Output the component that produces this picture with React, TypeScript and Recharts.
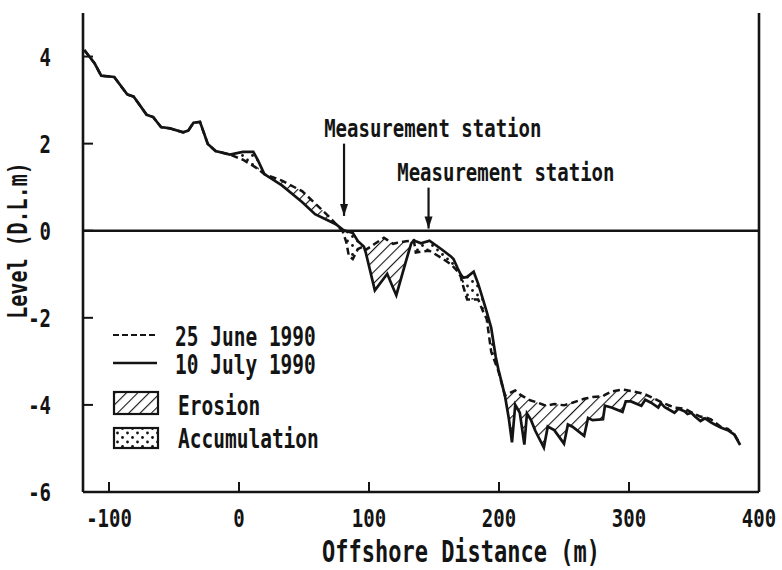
import type { FC, ReactNode } from 'react'
import { Area, ComposedChart, Legend, Line, ReferenceDot, ReferenceLine, XAxis, YAxis } from 'recharts'

// Beach profile, offshore distance (m) vs level (D.L. m)
const distance = [
  -119, -111, -106, -96, -86, -81, -71, -66, -60, -53, -43, -39, -35, -30, -24, -18, -7,
  3, 11, 14.5, 19.5, 33, 48.5, 58.5, 69, 75,
  80, 82.5, 84.5, 87.5, 91.5, 96,
  97.5, 104.5, 111.5, 114, 118.5, 121, 128.5, 132.5, 134.5,
  136, 140, 146.5, 155.5, 163, 165, 168, 170.5, 172.5, 175.5, 180.5, 184, 187.5, 190.5, 194, 197.5, 199.5, 204.5,
  207.5, 210, 212.5, 216, 219.5, 221.5, 224.5, 228, 234.5, 237.5, 242.5, 250, 253, 256.5, 265.5, 268.5, 272, 280,
  281.5, 286.5, 295, 297.5, 301.5, 309.5, 312.5, 317, 322.5, 324.5, 327.5, 335, 338, 343, 345, 348, 350.5, 355,
  358.5, 363, 366, 370.5, 376, 381, 385.5,
]

const june = [
  4.15, 3.84, 3.56, 3.53, 3.13, 3.08, 2.66, 2.61, 2.38, 2.35, 2.26, 2.3, 2.48, 2.5, 1.99, 1.83, 1.75,
  1.63, 1.49, 1.42, 1.3, 1.15, 0.91, 0.63, 0.33, 0.14,
  -0.03, -0.26, -0.58, -0.65, -0.42, -0.36,
  -0.44, -0.3, -0.16, -0.21, -0.3, -0.28, -0.24, -0.23, -0.22,
  -0.5, -0.48, -0.46, -0.62, -0.77, -0.83, -0.93, -1.05, -1.28, -1.58, -1.58, -1.58, -1.84, -2.02, -2.78, -3.06, -3.22, -3.78,
  -3.74, -3.7, -3.67, -3.76, -3.82, -3.86, -3.9, -3.93, -4.0, -4.01, -3.98, -4.01, -3.98, -3.95, -3.86, -3.84, -3.82, -3.8,
  -3.77, -3.69, -3.65, -3.66, -3.68, -3.73, -3.76, -3.82, -3.9, -3.93, -3.97, -4.06, -4.07, -4.09, -4.12, -4.17, -4.21, -4.27,
  -4.28, -4.33, -4.4, -4.5, -4.55, -4.67, -4.9,
]

const july = [
  4.15, 3.84, 3.56, 3.53, 3.13, 3.08, 2.66, 2.61, 2.38, 2.35, 2.26, 2.3, 2.48, 2.5, 1.99, 1.83, 1.75,
  1.81, 1.81, 1.62, 1.3, 1.04, 0.66, 0.38, 0.23, 0.14,
  0.02, -0.01, -0.02, -0.05, -0.24, -0.36,
  -0.5, -1.37, -1.09, -0.99, -1.31, -1.48, -0.69, -0.29, -0.22,
  -0.24, -0.29, -0.23, -0.42, -0.59, -0.65, -0.85, -1.0, -1.08, -1.06, -0.94, -1.22, -1.56, -1.86, -2.23, -2.9, -3.18, -3.78,
  -4.3, -4.86, -4.0, -4.18, -4.91, -4.2, -4.34, -4.6, -4.98, -4.5, -4.58, -4.89, -4.45, -4.5, -4.71, -4.3, -4.35, -4.33,
  -4.02, -4.06, -4.16, -3.92, -3.92, -4.02, -3.88, -3.95, -4.06, -3.96, -4.05, -4.18, -4.09, -4.15, -4.21, -4.18, -4.26, -4.37,
  -4.31, -4.4, -4.45, -4.52, -4.58, -4.68, -4.92,
]

const xTicks = [-100, 0, 100, 200, 300, 400]
const yTicks = [-6, -4, -2, 0, 2, 4]

const stations = [
  { x: 80.8, top: 2.0, tip: 0.34, textX: 65.5, textY: 2.36 },
  { x: 145.8, top: 0.99, tip: 0.05, textX: 121.7, textY: 1.35 },
]

// erosion where the earlier survey lies above the later one, accumulation otherwise
const rows = distance.map((x, i) => {
  const a = june[i]
  const b = july[i]
  return {
    x,
    june: a,
    july: b,
    erosion: a > b ? [b, a] : [b, b],
    accumulation: b > a ? [a, b] : [a, a],
  }
})

const INK = '#141414'
const FONT = '"DejaVu Sans Mono", monospace'

interface PlotTextProps {
  x: number
  y: number
  size: number
  anchor?: 'start' | 'middle' | 'end'
  rotate?: number
  children: ReactNode
}

// tall, narrow plotter-style lettering
const PlotText: FC<PlotTextProps> = ({ x, y, size, anchor = 'start', rotate = 0, children }) => (
  <text
    transform={`translate(${x},${y}) rotate(${rotate}) scale(1,1.35)`}
    fontFamily={FONT}
    fontSize={size}
    fontWeight="bold"
    textAnchor={anchor}
    dominantBaseline="central"
    fill={INK}>
    {children}
  </text>
)

const BottomTick = ({ x, y, payload }: any) => (
  <g>
    <line x1={x} y1={y} x2={x} y2={y - 10} stroke={INK} strokeWidth={2} />
    <PlotText x={x} y={y + 26} size={19} anchor="middle">
      {payload.value}
    </PlotText>
  </g>
)

const TopTick = ({ x, y }: any) => <line x1={x} y1={y} x2={x} y2={y + 10} stroke={INK} strokeWidth={2} />

const LeftTick = ({ x, y, payload }: any) => (
  <g>
    <line x1={x} y1={y} x2={x + 10} y2={y} stroke={INK} strokeWidth={2} />
    <PlotText x={x - 32} y={y} size={19} anchor="end">
      {payload.value}
    </PlotText>
  </g>
)

const RightTick = ({ x, y }: any) => <line x1={x} y1={y} x2={x - 10} y2={y} stroke={INK} strokeWidth={2} />

const Arrow = ({ x1, y1, x2, y2 }: any) => (
  <g>
    <line x1={x1} y1={y1} x2={x2} y2={y2} stroke={INK} strokeWidth={2.2} />
    <polygon points={`${x2},${y2} ${x2 - 4},${y2 - 12} ${x2 + 4},${y2 - 12}`} fill={INK} />
  </g>
)

const LegendKey: FC = () => (
  <svg width={240} height={140}>
    <line x1={3} y1={17} x2={46} y2={17} stroke={INK} strokeWidth={2.2} strokeDasharray="6 3" />
    <PlotText x={65} y={19} size={19.5}>
      25 June 1990
    </PlotText>
    <line x1={3} y1={45} x2={47} y2={45} stroke={INK} strokeWidth={2.6} />
    <PlotText x={65} y={47} size={19.5}>
      10 July 1990
    </PlotText>
    <rect x={4} y={74} width={44} height={22} fill="url(#hatch)" stroke={INK} strokeWidth={2.2} />
    <PlotText x={68} y={88} size={19.5}>
      Erosion
    </PlotText>
    <rect x={4} y={110} width={44} height={20} fill="url(#dots)" stroke={INK} strokeWidth={2.2} />
    <PlotText x={68} y={121} size={19.5}>
      Accumulation
    </PlotText>
  </svg>
)

const XTitle = ({ viewBox }: any) => (
  <PlotText x={viewBox.x + viewBox.width / 2 + 40} y={viewBox.y + 60} size={22} anchor="middle">
    Offshore Distance (m)
  </PlotText>
)

const YTitle = ({ viewBox }: any) => (
  <PlotText x={18} y={viewBox.y + viewBox.height / 2 - 12} size={20} anchor="middle" rotate={-90}>
    Level (D.L.m)
  </PlotText>
)

const App: FC = () => (
  <div style={{ position: 'absolute', left: 0, top: 0, width: 782, height: 570, background: '#fff' }}>
    <ComposedChart width={782} height={570} data={rows} margin={{ top: 13, right: 0, bottom: 0, left: 0 }}>
      <defs>
        <pattern id="hatch" width={8} height={8} patternUnits="userSpaceOnUse" patternTransform="rotate(45)">
          <line x1={0} y1={0} x2={0} y2={8} stroke={INK} strokeWidth={2.2} />
        </pattern>
        <pattern id="dots" width={10} height={9} patternUnits="userSpaceOnUse">
          <circle cx={2.5} cy={2.5} r={1.4} fill={INK} />
          <circle cx={7.5} cy={7} r={1.4} fill={INK} />
        </pattern>
      </defs>

      <XAxis
        dataKey="x"
        type="number"
        domain={[-120, 400]}
        ticks={xTicks}
        interval={0}
        height={78}
        tickSize={0}
        tickMargin={0}
        tickLine={false}
        tick={BottomTick}
        axisLine={{ stroke: INK, strokeWidth: 2.6 }}
        label={{ content: XTitle }}
      />
      <XAxis
        xAxisId="top"
        orientation="top"
        type="number"
        domain={[-120, 400]}
        ticks={xTicks}
        interval={0}
        height={0}
        tickSize={0}
        tickMargin={0}
        tickLine={false}
        tick={TopTick}
        axisLine={{ stroke: INK, strokeWidth: 2.6 }}
      />
      <YAxis
        type="number"
        domain={[-6, 5]}
        ticks={yTicks}
        interval={0}
        width={83}
        tickSize={0}
        tickMargin={0}
        tickLine={false}
        tick={LeftTick}
        axisLine={{ stroke: INK, strokeWidth: 2.6 }}
        label={{ content: YTitle }}
      />
      <YAxis
        yAxisId="right"
        orientation="right"
        type="number"
        domain={[-6, 5]}
        ticks={yTicks}
        interval={0}
        width={23}
        tickSize={0}
        tickMargin={0}
        tickLine={false}
        tick={RightTick}
        axisLine={{ stroke: INK, strokeWidth: 2.6 }}
      />

      <Area
        type="linear"
        dataKey="erosion"
        stroke="none"
        fill="url(#hatch)"
        fillOpacity={1}
        dot={false}
        activeDot={false}
        isAnimationActive={false}
      />
      <Area
        type="linear"
        dataKey="accumulation"
        stroke="none"
        fill="url(#dots)"
        fillOpacity={1}
        dot={false}
        activeDot={false}
        isAnimationActive={false}
      />
      <Line
        type="linear"
        dataKey="june"
        stroke={INK}
        strokeWidth={2.5}
        strokeDasharray="7 4"
        dot={false}
        activeDot={false}
        isAnimationActive={false}
      />
      <Line
        type="linear"
        dataKey="july"
        stroke={INK}
        strokeWidth={2.7}
        dot={false}
        activeDot={false}
        isAnimationActive={false}
      />

      <ReferenceLine y={0} stroke={INK} strokeWidth={2.6} />
      {stations.map((s, i) => (
        <ReferenceLine
          key={`arrow-${i}`}
          segment={[
            { x: s.x, y: s.top },
            { x: s.x, y: s.tip },
          ]}
          shape={Arrow}
        />
      ))}
      {stations.map((s, i) => (
        <ReferenceDot
          key={`label-${i}`}
          x={s.textX}
          y={s.textY}
          r={0}
          shape={({ cx, cy }: any) => (
            <PlotText x={cx} y={cy} size={19}>
              Measurement station
            </PlotText>
          )}
        />
      ))}

      <Legend
        layout="horizontal"
        verticalAlign="middle"
        align="center"
        content={LegendKey}
        wrapperStyle={{ left: 110, top: 318, width: 240, height: 140 }}
      />
    </ComposedChart>
  </div>
)

export default App
